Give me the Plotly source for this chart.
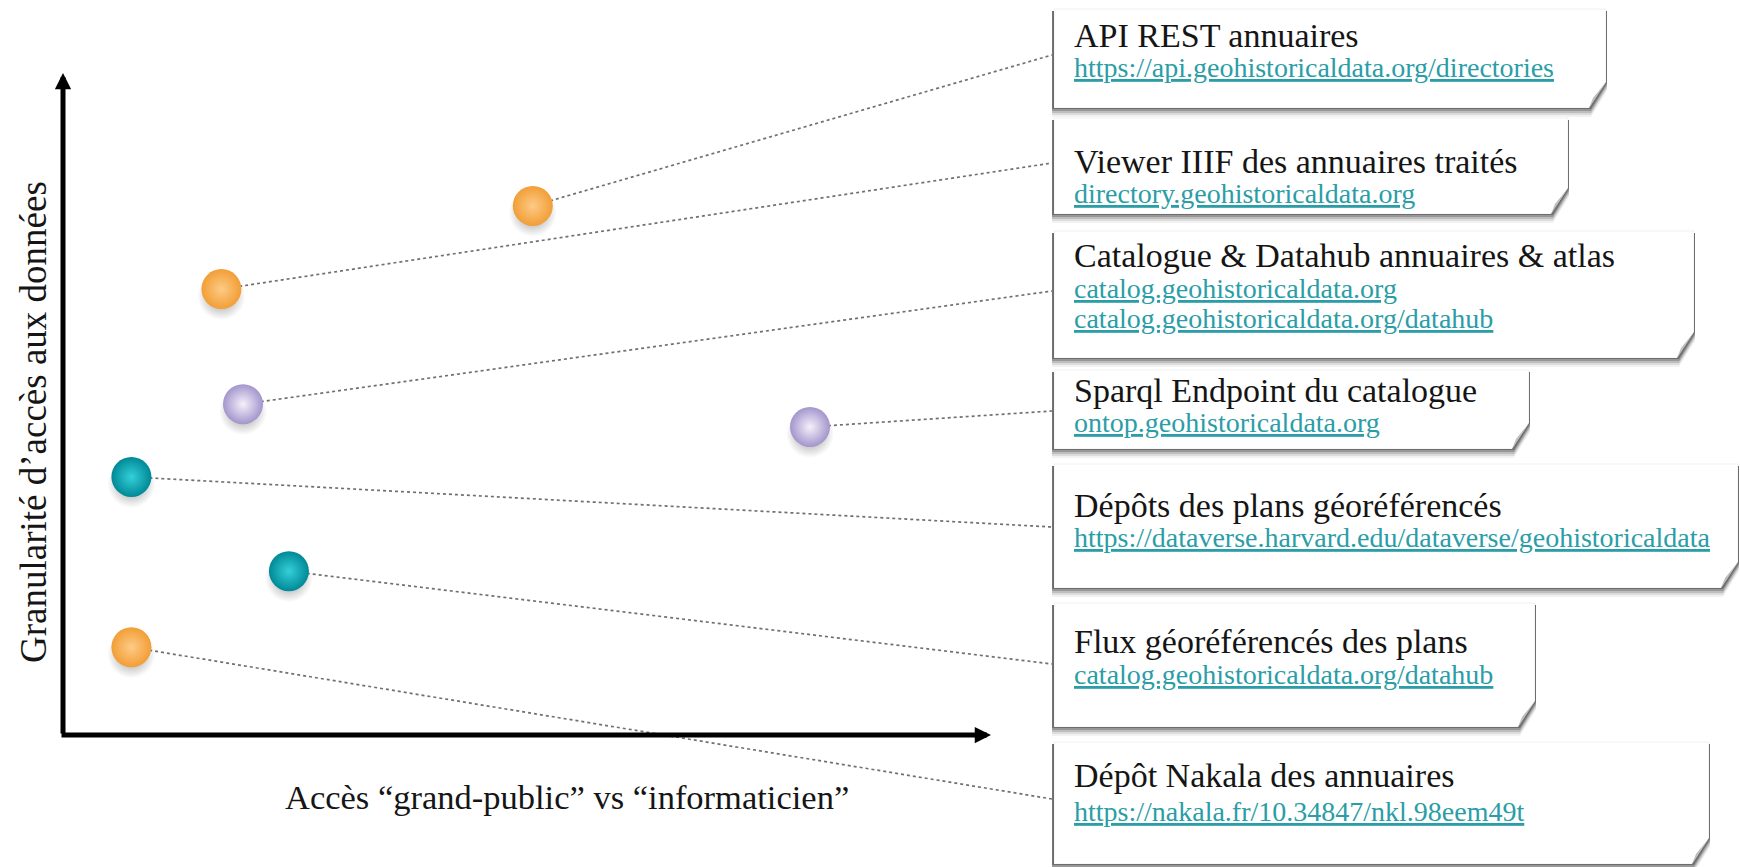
import plotly.graph_objects as go

W, H = 1740, 867

# ---------------- data ----------------
services = [
    "API REST annuaires",
    "Viewer IIIF des annuaires traités",
    "Catalogue & Datahub annuaires & atlas",
    "Sparql Endpoint du catalogue",
    "Dépôts des plans géoréférencés",
    "Flux géoréférencés des plans",
    "Dépôt Nakala des annuaires",
]
liens = [
    ["https://api.geohistoricaldata.org/directories"],
    ["directory.geohistoricaldata.org"],
    ["catalog.geohistoricaldata.org", "catalog.geohistoricaldata.org/datahub"],
    ["ontop.geohistoricaldata.org"],
    ["https://dataverse.harvard.edu/dataverse/geohistoricaldata"],
    ["catalog.geohistoricaldata.org/datahub"],
    ["https://nakala.fr/10.34847/nkl.98eem49t"],
]
familles = ["annuaires", "annuaires", "catalogue", "catalogue", "plans", "plans", "annuaires"]
acces = [5.22, 1.76, 2.00, 8.30, 0.76, 2.51, 0.76]          # "grand-public" -> "informaticien"
granularite = [8.14, 6.86, 5.09, 4.74, 3.97, 2.52, 1.35]    # granularité d'accès

x_label = "Accès “grand-public” vs “informaticien”"
y_label = "Granularité d’accès aux données"

# ---------------- styling / layout ----------------
palette = {
    "annuaires": ("#F29E36", "#FDCB86"),
    "catalogue": ("#A395CC", "#F4F1FB"),
    "plans": ("#008996", "#34D0DA"),
}
SERIF = "Liberation Serif, Times New Roman, serif"
URL_COLOR = "#2A9DA7"

# axes frame: origin pixel and pixels per unit
X0_PX, Y0_PX, SX, SY = 63, 735, 90.0, 65.0
X_TIP, Y_TIP = (991 - X0_PX) / SX, (Y0_PX - 73) / SY

def px2x(px):
    return (px - X0_PX) / SX

def px2y(py):
    return (Y0_PX - py) / SY

def pxp(px, py):
    return px / W, 1 - py / H

BOXES = [
    (1054, 9, 1606, 108),
    (1054, 118, 1568, 214),
    (1054, 231, 1694, 358),
    (1054, 370, 1529, 449),
    (1054, 464, 1738, 588),
    (1054, 603, 1535, 727),
    (1054, 742, 1709, 864),
]
TITLE_Y = [35, 161, 255, 391, 505, 641, 775]
URL_Y = [[67], [194], [289, 318], [422], [537], [674], [811]]
ANCHOR_Y = [55, 163, 291, 411, 527, 664, 799]
ANCHOR_X = 1052

fig = go.Figure()

# connectors
cx, cy = [], []
for i in range(len(services)):
    cx += [acces[i], px2x(ANCHOR_X), None]
    cy += [granularite[i], px2y(ANCHOR_Y[i]), None]
fig.add_trace(go.Scatter(x=cx, y=cy, mode="lines", hoverinfo="skip", showlegend=False,
                         line=dict(color="#707070", width=1.7, dash="dot")))

# dot shadows
fig.add_trace(go.Scatter(
    x=acces, y=[g - 7 / SY for g in granularite], mode="markers", hoverinfo="skip", showlegend=False,
    marker=dict(size=48, color="rgba(60,60,60,0)", line=dict(width=0),
                gradient=dict(type="radial", color="rgba(40,40,40,0.55)"))))

# spheres
for fam in ["annuaires", "catalogue", "plans"]:
    idx = [i for i, f in enumerate(familles) if f == fam]
    edge, centre = palette[fam]
    fig.add_trace(go.Scatter(
        x=[acces[i] for i in idx], y=[granularite[i] for i in idx], mode="markers",
        name=fam, showlegend=False, text=[services[i] for i in idx],
        marker=dict(size=40, color=edge, line=dict(width=0),
                    gradient=dict(type="radial", color=centre))))

shapes = []
annotations = []

# boxes with shadow and curled corner
for (x0, y0, x1, y1) in BOXES:
    cw, ch = 17, 26
    for k, a in [(9, 0.05), (7, 0.09), (5, 0.14), (3, 0.20), (1, 0.25)]:
        p = [pxp(x0 - 2, y0 + 2), pxp(x1 + 1, y0 + 2), pxp(x1 + 1, y1 - ch + k),
             pxp(x1 - cw + 2, y1 + k), pxp(x0 - 2, y1 + k)]
        path = "M" + " L".join(f"{a_:.5f},{b_:.5f}" for a_, b_ in p) + " Z"
        shapes.append(dict(type="path", xref="paper", yref="paper", path=path,
                           fillcolor=f"rgba(0,0,0,{a})", line=dict(width=0), layer="below"))
    p = [pxp(x0, y0), pxp(x1, y0), pxp(x1, y1 - ch), pxp(x1 - cw, y1), pxp(x0, y1)]
    path = "M" + " L".join(f"{a_:.5f},{b_:.5f}" for a_, b_ in p) + " Z"
    shapes.append(dict(type="path", xref="paper", yref="paper", path=path,
                       fillcolor="white", line=dict(width=1, color="rgba(0,0,0,0.06)"), layer="above"))
    p = [pxp(x1, y1 - ch), pxp(x1 - cw, y1), pxp(x1 - cw + 4, y1 - 10)]
    path = "M" + " L".join(f"{a_:.5f},{b_:.5f}" for a_, b_ in p) + " Z"
    shapes.append(dict(type="path", xref="paper", yref="paper", path=path,
                       fillcolor="#bdbdbd", line=dict(width=0), layer="above"))

for i, (x0, y0, x1, y1) in enumerate(BOXES):
    tx, _ = pxp(x0 + 18, 0)
    annotations.append(dict(x=tx, y=pxp(0, TITLE_Y[i])[1], xref="paper", yref="paper",
                            xanchor="left", yanchor="middle", showarrow=False, text=services[i],
                            font=dict(family=SERIF, size=34, color="#151515")))
    for u, uy in zip(liens[i], URL_Y[i]):
        annotations.append(dict(x=tx, y=pxp(0, uy)[1], xref="paper", yref="paper",
                                xanchor="left", yanchor="middle", showarrow=False, text=f"<u>{u}</u>",
                                font=dict(family=SERIF, size=28, color=URL_COLOR)))

# axes drawn as arrows
annotations.append(dict(x=0, y=Y_TIP, ax=0, ay=0, xref="x", yref="y", axref="x", ayref="y",
                        showarrow=True, arrowhead=2, arrowsize=0.65, arrowwidth=5, arrowcolor="black", text=""))
annotations.append(dict(x=X_TIP, y=0, ax=-3 / SX, ay=0, xref="x", yref="y", axref="x", ayref="y",
                        showarrow=True, arrowhead=2, arrowsize=0.65, arrowwidth=5, arrowcolor="black", text=""))

# axis titles
annotations.append(dict(x=px2x(567), y=px2y(797), xref="x", yref="y", showarrow=False, text=x_label,
                        font=dict(family=SERIF, size=34.5, color="#151515")))
annotations.append(dict(x=px2x(33), y=px2y(422), xref="x", yref="y", showarrow=False, text=y_label,
                        textangle=-90, font=dict(family=SERIF, size=37, color="#151515")))

fig.update_layout(
    width=W, height=H, margin=dict(l=0, r=0, t=0, b=0),
    paper_bgcolor="white", plot_bgcolor="white",
    xaxis=dict(range=[px2x(0), px2x(W)], visible=False, fixedrange=True),
    yaxis=dict(range=[px2y(H), px2y(0)], visible=False, fixedrange=True),
    shapes=shapes, annotations=annotations, showlegend=False,
)

fig.write_html("out.html", config={"displayModeBar": False},
               post_script="document.body.style.margin='0';document.body.style.overflow='hidden';")
